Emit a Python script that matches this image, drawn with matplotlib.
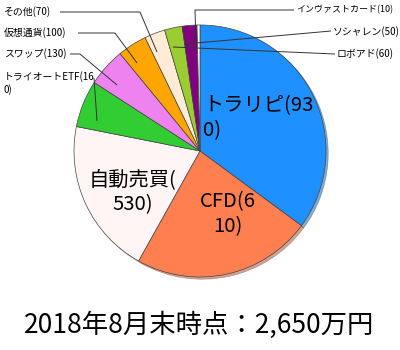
import matplotlib
matplotlib.use("Agg")
import matplotlib.pyplot as plt

plt.rcParams['font.family'] = ['Noto Sans CJK JP', 'DejaVu Sans']

categories = ["トラリピ", "CFD", "自動売買", "トライオートETF", "スワップ",
              "仮想通貨", "その他", "ロボアド", "ソシャレン", "インヴァストカード"]
values = [930, 610, 530, 160, 130, 100, 70, 60, 50, 10]
colors = ["#1e90ff", "#ff7f50", "#fff5f5", "#32cd32", "#ee82ee",
          "#ffa500", "#ffebd6", "#9acd32", "#800080", "#ffffff"]
title = "2018年8月末時点：2,650万円"

# where each label wraps (character index) – matches reference rendering
wrap_at = {0: 7, 1: 5, 2: 5, 3: 12}

W, H = 400, 350
fig = plt.figure(figsize=(4, 3.5), dpi=100)
ax = fig.add_axes([0, 0, 1, 1])

cx, cy, r = 200, 350 - 151, 126
ax.pie(values, colors=colors, startangle=90, counterclock=False,
       center=(cx, cy), radius=r,
       wedgeprops=dict(edgecolor="#444444", linewidth=0.5),
       shadow={'ox': 1.6, 'oy': -1.6, 'shade': 0.4})
ax.set_xlim(0, W)
ax.set_ylim(0, H)
ax.set_aspect('equal')
ax.axis('off')

def lab(i):
    s = f"{categories[i]}({values[i]})"
    if i in wrap_at:
        k = wrap_at[i]
        s = s[:k] + "\n" + s[k:]
    return s

def P(x, y):
    return x, H - y

# inside labels
big = 14.6
ax.text(*P(203, 118), lab(0), fontsize=big, ha='left', va='center', linespacing=1.22)
ax.text(*P(228, 214), lab(1), fontsize=big, ha='center', va='center', linespacing=1.22, multialignment='center')
ax.text(*P(133, 192), lab(2), fontsize=big, ha='center', va='center', linespacing=1.22, multialignment='center')

small = 7.1
lc = "#333333"
lw = 0.7

def leader(pts):
    xs = [p[0] for p in pts]
    ys = [H - p[1] for p in pts]
    ax.plot(xs, ys, color=lc, lw=lw, solid_capstyle='butt')

# left labels
ax.text(*P(4, 83), lab(3), fontsize=small, ha='left', va='center', linespacing=1.3)
leader([(94, 78), (97, 121)])

ax.text(*P(4, 54), lab(4), fontsize=small, ha='left', va='center')
leader([(70, 54), (80, 54), (117, 85)])

ax.text(*P(4, 33), lab(5), fontsize=small, ha='left', va='center')
leader([(78, 33), (115, 33), (137, 63)])

ax.text(*P(4, 12), lab(6), fontsize=small, ha='left', va='center')
leader([(60, 12), (140, 12), (157, 52)])

# right labels
ax.text(*P(296, 10), lab(9), fontsize=6.5, ha='left', va='center')
leader([(294, 10), (195, 10), (196, 43)])

ax.text(*P(333, 32), lab(8), fontsize=small, ha='left', va='center')
leader([(331, 31), (185, 44)])

ax.text(*P(337, 54), lab(7), fontsize=small, ha='left', va='center')
leader([(335, 54), (173, 47)])

# title
ax.text(*P(199, 325), title, fontsize=19, ha='center', va='center')

fig.savefig("out.png", dpi=100)
